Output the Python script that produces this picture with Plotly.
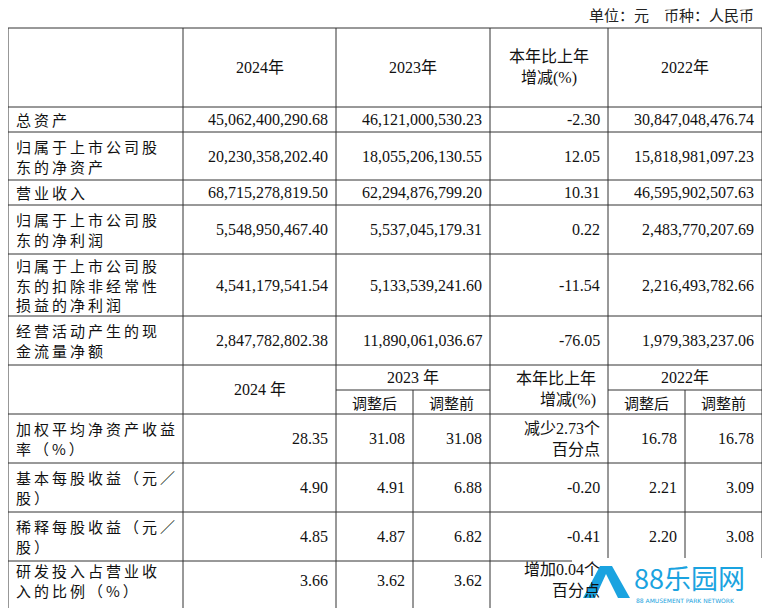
import plotly.graph_objects as go

unit_text = "单位：元　币种：人民币"
top_headers = ["2024年", "2023年", "本年比上年<br>增减(%)", "2022年"]
top_labels = ["总资产", "归属于上市公司股<br>东的净资产", "营业收入", "归属于上市公司股<br>东的净利润",
              "归属于上市公司股<br>东的扣除非经常性<br>损益的净利润", "经营活动产生的现<br>金流量净额"]
v2024 = ["45,062,400,290.68", "20,230,358,202.40", "68,715,278,819.50", "5,548,950,467.40", "4,541,179,541.54", "2,847,782,802.38"]
v2023 = ["46,121,000,530.23", "18,055,206,130.55", "62,294,876,799.20", "5,537,045,179.31", "5,133,539,241.60", "11,890,061,036.67"]
vchg = ["-2.30", "12.05", "10.31", "0.22", "-11.54", "-76.05"]
v2022 = ["30,847,048,476.74", "15,818,981,097.23", "46,595,902,507.63", "2,483,770,207.69", "2,216,493,782.66", "1,979,383,237.06"]

sub_labels = ["加权平均净资产收益<br>率（%）", "基本每股收益（元／<br>股）", "稀释每股收益（元／<br>股）", "研发投入占营业收<br>入的比例（%）"]
s2024 = ["28.35", "4.90", "4.85", "3.66"]
s2023a = ["31.08", "4.91", "4.87", "3.62"]
s2023b = ["31.08", "6.88", "6.82", "3.62"]
schg = ["减少2.73个<br>百分点", "-0.20", "-0.41", "增加0.04个<br>百分点"]
s2022a = ["16.78", "2.21", "2.20", ""]
s2022b = ["16.78", "3.09", "3.08", ""]

CJK = "Noto Sans CJK SC"
NUM = "Liberation Serif"
fig = go.Figure()
shapes = []
ann = []
LC = "#333"

def spaced(s):
    return "<br>".join("\u2009".join(part) for part in s.split("<br>"))

def hline(y, x0=8, x1=762):
    shapes.append(dict(type="line", x0=x0, x1=x1, y0=y, y1=y, line=dict(color=LC, width=1)))
def vline(x, y0, y1):
    shapes.append(dict(type="line", x0=x, x1=x, y0=y0, y1=y1, line=dict(color=LC, width=1)))
def txt(x, y, t, anchor="center", font=NUM, size=16):
    ann.append(dict(x=x, y=y, text=t, showarrow=False, xanchor=anchor, yanchor="middle",
                    font=dict(family=f"{font}, {CJK}", size=size, color="#111"), align=anchor if anchor != "center" else "center"))

rows = [28, 107, 132, 180, 205, 254, 316, 365, 414, 463, 512, 561, 612]
for y in rows:
    hline(y)
hline(390, 336, 490); hline(390, 608, 762)
for x in [8, 183, 336, 490, 608, 762]:
    vline(x, 28, 612)
vline(413, 390, 612); vline(685, 390, 612)

ann.append(dict(x=756, y=14, text=unit_text, showarrow=False, xanchor="right", yanchor="middle",
                font=dict(family=CJK, size=15, color="#222")))
cx = [259.5, 413, 549, 685]
for x, h in zip(cx, top_headers):
    txt(x, 67, h, font=NUM)
for i in range(6):
    yc = (rows[i+1] + rows[i+2]) / 2
    txt(14, yc, spaced(top_labels[i]), "left", CJK, 15)
    txt(330, yc, v2024[i], "right")
    txt(484, yc, v2023[i], "right")
    txt(602, yc, vchg[i], "right")
    txt(756, yc, v2022[i], "right")

txt(259.5, 389, "2024 年")
txt(413, 377, "2023 年")
txt(374.5, 402, "调整后", font=CJK, size=15)
txt(451.5, 402, "调整前", font=CJK, size=15)
txt(598, 389, "本年比上年<br>增减(%)", "right", font=NUM, size=16)
txt(685, 377, "2022年")
txt(646.5, 402, "调整后", font=CJK, size=15)
txt(723.5, 402, "调整前", font=CJK, size=15)
for i in range(4):
    yc = (rows[8+i] + rows[9+i]) / 2
    if i == 3:
        yc = 580
    txt(14, yc, spaced(sub_labels[i]), "left", CJK, 15)
    txt(330, yc, s2024[i], "right")
    txt(407, yc, s2023a[i], "right")
    txt(484, yc, s2023b[i], "right")
    txt(602, yc, schg[i], "right", size=16)
    txt(679, yc, s2022a[i], "right")
    txt(756, yc, s2022b[i], "right")

# watermark
shapes.append(dict(type="rect", x0=572, x1=778, y0=558, y1=616, fillcolor="white", line=dict(width=0)))
shapes.append(dict(type="path", path="M 583 598 L 600 566 L 612 566 L 630 598 L 618 598 L 606 574 L 595 598 Z",
                   fillcolor="#1aa3e0", line=dict(width=0)))
ann.append(dict(x=632, y=577, text="88乐园网", showarrow=False, xanchor="left", yanchor="middle",
                font=dict(family=CJK, size=27, color="#1aa3e0")))
ann.append(dict(x=634, y=600, text="88 AMUSEMENT PARK NETWORK", showarrow=False, xanchor="left", yanchor="middle",
                font=dict(family="DejaVu Sans", size=6, color="#1aa3e0")))

fig.update_layout(width=770, height=608, margin=dict(l=0, r=0, t=0, b=0),
                  paper_bgcolor="white", plot_bgcolor="white", shapes=shapes, annotations=ann,
                  xaxis=dict(range=[8, 778], visible=False, fixedrange=True),
                  yaxis=dict(range=[616, 8], visible=False, fixedrange=True), showlegend=False)
fig.write_html("out.html")
